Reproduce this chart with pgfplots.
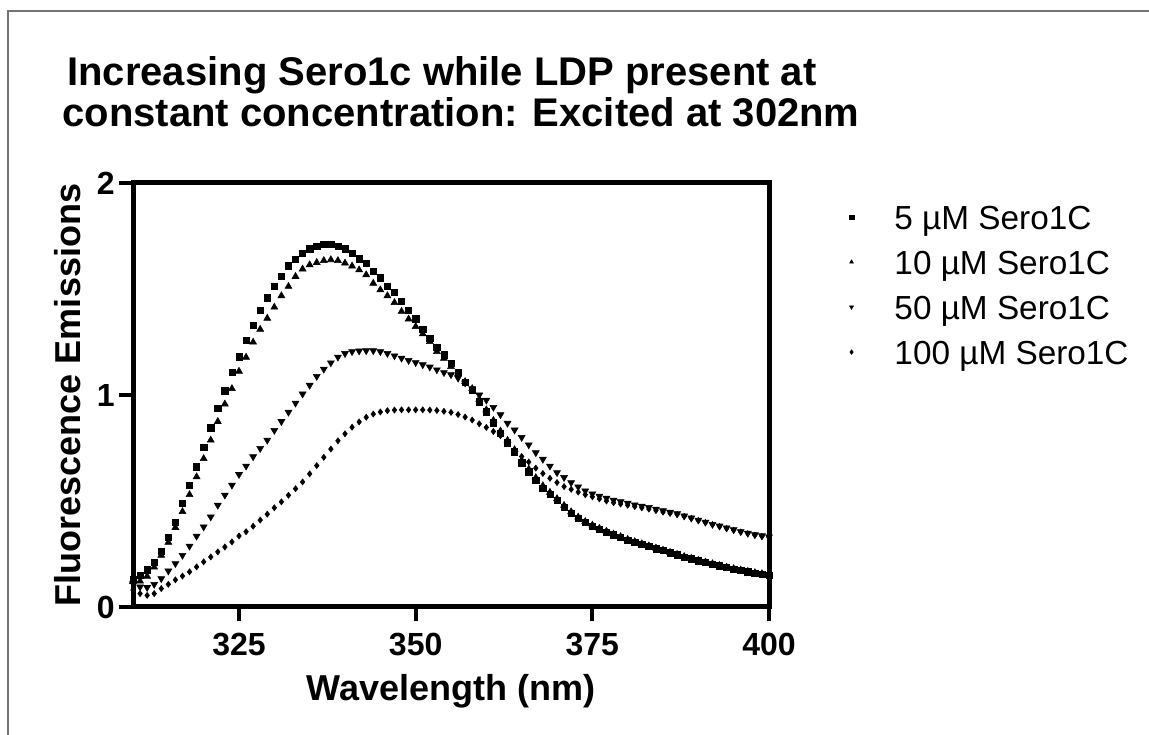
\documentclass[border=0pt]{standalone}
\usepackage{fontspec}
\setmainfont{Liberation Sans}
\usepackage{pgfplots}
\pgfplotsset{compat=1.18}
\usepackage{pgfplotstable}

\pgfplotstableread{
x y
310 0.130
311 0.150
312 0.175
313 0.210
314 0.262
315 0.330
316 0.400
317 0.488
318 0.575
319 0.662
320 0.755
321 0.845
322 0.937
323 1.020
324 1.108
325 1.180
326 1.258
327 1.330
328 1.398
329 1.458
330 1.512
331 1.560
332 1.610
333 1.640
334 1.668
335 1.690
336 1.702
337 1.710
338 1.710
339 1.702
340 1.690
341 1.670
342 1.642
343 1.620
344 1.584
345 1.553
346 1.514
347 1.484
348 1.443
349 1.398
350 1.360
351 1.309
352 1.269
353 1.226
354 1.190
355 1.150
356 1.108
357 1.060
358 1.022
359 0.968
360 0.921
361 0.869
362 0.819
363 0.775
364 0.732
365 0.680
366 0.638
367 0.598
368 0.560
369 0.532
370 0.504
371 0.472
372 0.443
373 0.418
374 0.398
375 0.382
376 0.368
377 0.354
378 0.341
379 0.329
380 0.316
381 0.305
382 0.295
383 0.285
384 0.275
385 0.266
386 0.256
387 0.246
388 0.236
389 0.227
390 0.218
391 0.210
392 0.202
393 0.194
394 0.186
395 0.179
396 0.172
397 0.166
398 0.160
399 0.155
400 0.150
}\dataA

\pgfplotstableread{
x y
310 0.120
311 0.122
312 0.145
313 0.188
314 0.244
315 0.305
316 0.375
317 0.450
318 0.530
319 0.614
320 0.700
321 0.787
322 0.875
323 0.957
324 1.030
325 1.112
326 1.178
327 1.249
328 1.310
329 1.362
330 1.414
331 1.468
332 1.512
333 1.559
334 1.594
335 1.614
336 1.625
337 1.634
338 1.638
339 1.634
340 1.622
341 1.608
342 1.590
343 1.567
344 1.527
345 1.496
346 1.468
347 1.436
348 1.394
349 1.358
350 1.323
351 1.288
352 1.252
353 1.205
354 1.173
355 1.134
356 1.102
357 1.063
358 1.030
359 0.980
360 0.930
361 0.880
362 0.830
363 0.786
364 0.742
365 0.692
366 0.650
367 0.610
368 0.572
369 0.541
370 0.511
371 0.479
372 0.449
373 0.424
374 0.403
375 0.386
376 0.371
377 0.357
378 0.344
379 0.332
380 0.319
381 0.308
382 0.298
383 0.288
384 0.278
385 0.268
386 0.258
387 0.248
388 0.238
389 0.229
390 0.220
391 0.212
392 0.204
393 0.196
394 0.188
395 0.181
396 0.174
397 0.168
398 0.162
399 0.157
400 0.152
}\dataB

\pgfplotstableread{
x y
310 0.110
311 0.095
312 0.092
313 0.107
314 0.134
315 0.170
316 0.205
317 0.244
318 0.287
319 0.334
320 0.378
321 0.425
322 0.480
323 0.528
324 0.575
325 0.625
326 0.665
327 0.709
328 0.748
329 0.787
330 0.833
331 0.875
332 0.919
333 0.962
334 1.005
335 1.046
336 1.088
337 1.122
338 1.152
339 1.179
340 1.196
341 1.205
342 1.208
343 1.209
344 1.209
345 1.205
346 1.196
347 1.185
348 1.174
349 1.163
350 1.153
351 1.143
352 1.132
353 1.119
354 1.106
355 1.096
356 1.080
357 1.057
358 1.030
359 1.000
360 0.976
361 0.942
362 0.907
363 0.867
364 0.835
365 0.800
366 0.765
367 0.728
368 0.697
369 0.665
370 0.634
371 0.611
372 0.587
373 0.567
374 0.548
375 0.534
376 0.523
377 0.513
378 0.504
379 0.497
380 0.490
381 0.482
382 0.476
383 0.470
384 0.462
385 0.454
386 0.447
387 0.440
388 0.430
389 0.420
390 0.410
391 0.400
392 0.390
393 0.382
394 0.373
395 0.365
396 0.356
397 0.348
398 0.341
399 0.336
400 0.331
}\dataC

\pgfplotstableread{
x y
310 0.080
311 0.063
312 0.055
313 0.063
314 0.087
315 0.107
316 0.128
317 0.146
318 0.166
319 0.189
320 0.213
321 0.236
322 0.260
323 0.283
324 0.307
325 0.335
326 0.355
327 0.381
328 0.410
329 0.438
330 0.468
331 0.496
332 0.527
333 0.558
334 0.590
335 0.628
336 0.667
337 0.706
338 0.745
339 0.784
340 0.817
341 0.848
342 0.873
343 0.895
344 0.910
345 0.920
346 0.926
347 0.929
348 0.930
349 0.930
350 0.930
351 0.930
352 0.929
353 0.927
354 0.923
355 0.918
356 0.908
357 0.896
358 0.882
359 0.864
360 0.847
361 0.828
362 0.808
363 0.775
364 0.740
365 0.710
366 0.684
367 0.655
368 0.630
369 0.607
370 0.587
371 0.568
372 0.555
373 0.542
374 0.530
375 0.520
376 0.510
377 0.500
378 0.492
379 0.486
380 0.480
381 0.474
382 0.468
383 0.462
384 0.455
385 0.448
386 0.442
387 0.436
388 0.427
389 0.418
390 0.408
391 0.399
392 0.389
393 0.380
394 0.371
395 0.362
396 0.354
397 0.346
398 0.339
399 0.333
400 0.328
}\dataD

\begin{document}
\begin{tikzpicture}
\useasboundingbox (0pt,0pt) rectangle (861.75pt,551.25pt);
\fill[white] (0pt,0pt) rectangle (861.75pt,551.25pt);
\draw[black!55, line width=1.1pt] (6pt,0pt) -- (6pt,543pt) -- (861.75pt,543pt);
\begin{axis}[
  scale only axis,
  width=477pt, height=318pt,
  at={(99.75pt,96pt)}, anchor=south west,
  xmin=310, xmax=400, ymin=0, ymax=2,
  xtick={325,350,375,400}, ytick={0,1,2},
  xtick pos=lower, ytick pos=left,
  minor tick num=0,
  tick align=outside,
  major tick length=10.5pt,
  tick style={line width=3pt, black},
  axis line style={line width=3.75pt},
  clip=false,
  /pgf/number format/assume math mode=true,
  xticklabel style={font=\fontsize{24}{24}\selectfont\bfseries, anchor=base, inner sep=0pt, yshift=-25.5pt},
  yticklabel style={font=\fontsize{24}{24}\selectfont\bfseries, anchor=east, inner sep=0pt, xshift=-3pt},
  xlabel={Wavelength (nm)},
  ylabel={Fluorescence Emissions},
  every axis x label/.style={at={(axis description cs:0.5,-0.2217)}, anchor=base, font=\fontsize{27}{27}\selectfont\bfseries},
  every axis y label/.style={at={(axis description cs:-0.102,0.5)}, rotate=90, anchor=center, font=\fontsize{27}{27}\selectfont\bfseries},
  legend cell align=left,
  legend image code/.code={\draw[#1, mark size=1.7pt] plot coordinates {(0pt,2.5pt)};},
  legend style={at={(axis description cs:1.1195,0.9717)}, anchor=north west, draw=none, fill=none,
    font=\fontsize{25}{25}\selectfont,
    nodes={inner sep=0pt, text height=24pt, text depth=9.75pt},
    /tikz/every odd column/.append style={column sep=30.5pt}},
]
\addplot[only marks, mark=square*, mark size=2.35pt, black] table {\dataA};
\addlegendentry{5 µM Sero1C}
\addplot[only marks, mark=triangle*, mark size=3pt, black] table {\dataB};
\addlegendentry{10 µM Sero1C}
\addplot[only marks, mark=triangle*, mark size=3pt, black, mark options={rotate=180}] table {\dataC};
\addlegendentry{50 µM Sero1C}
\addplot[only marks, mark=diamond*, mark size=2.3pt, black] table {\dataD};
\addlegendentry{100 µM Sero1C}
\node[anchor=base, font=\fontsize{30}{30}\selectfont\bfseries] at (axis description cs:0.4858,1.2288) {Increasing Sero1c while LDP present at};
\node[anchor=base, font=\fontsize{30}{30}\selectfont\bfseries] at (axis description cs:0.5157,1.1344) {constant concentration: Excited at 302nm};
\end{axis}
\end{tikzpicture}
\end{document}
